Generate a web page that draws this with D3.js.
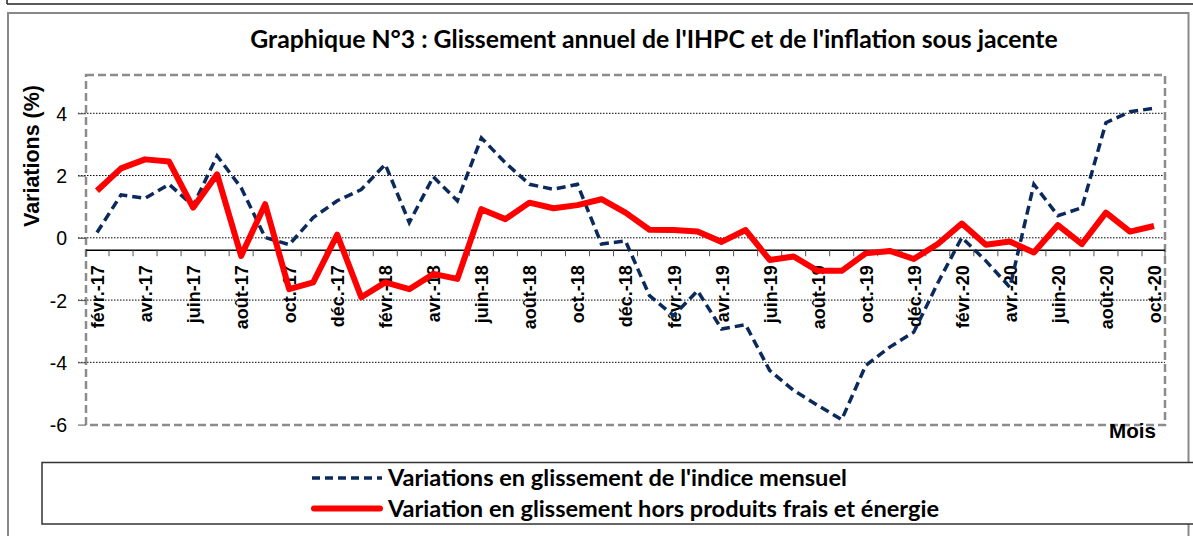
<!DOCTYPE html>
<html><head><meta charset="utf-8">
<script src="https://cdn.jsdelivr.net/npm/d3@7"></script>
<style>body{margin:0;background:#fff}svg{display:block}</style>
</head><body>
<svg id="c" width="1193" height="536"></svg>
<script>
const categories = ["févr.-17","mars-17","avr.-17","mai-17","juin-17","juil.-17","août-17","sept.-17","oct.-17","nov.-17","déc.-17","janv.-18","févr.-18","mars-18","avr.-18","mai-18","juin-18","juil.-18","août-18","sept.-18","oct.-18","nov.-18","déc.-18","janv.-19","févr.-19","mars-19","avr.-19","mai-19","juin-19","juil.-19","août-19","sept.-19","oct.-19","nov.-19","déc.-19","janv.-20","févr.-20","mars-20","avr.-20","mai-20","juin-20","juil.-20","août-20","sept.-20","oct.-20"];
const ihpc = [0.17,1.38,1.27,1.72,1.03,2.63,1.61,0.01,-0.22,0.65,1.19,1.55,2.36,0.49,1.96,1.19,3.21,2.41,1.72,1.56,1.72,-0.20,-0.10,-1.86,-2.50,-1.70,-2.93,-2.79,-4.26,-4.90,-5.38,-5.84,-4.10,-3.51,-3.03,-1.45,0.01,-0.74,-1.59,1.72,0.71,0.97,3.70,4.05,4.16];
const core = [1.51,2.23,2.52,2.45,0.97,2.04,-0.58,1.08,-1.65,-1.43,0.10,-1.91,-1.43,-1.65,-1.16,-1.32,0.92,0.60,1.13,0.95,1.05,1.24,0.81,0.26,0.25,0.20,-0.13,0.25,-0.71,-0.60,-1.06,-1.06,-0.50,-0.42,-0.68,-0.20,0.46,-0.22,-0.12,-0.47,0.41,-0.20,0.81,0.20,0.38];
const yTicks = [-6,-4,-2,0,2,4];
const titleText = "Graphique N°3 : Glissement annuel de l'IHPC et de l'inflation sous jacente";
const yTitle = "Variations (%)";
const xTitle = "Mois";
const seriesNames = ["Variations en glissement de l'indice mensuel","Variation en glissement hors produits frais et énergie"];
const axisCross = -0.4;

const svg = d3.select("#c");
const ARIAL = "Liberation Sans, Arial, sans-serif";
const CALIBRI = "Lato, Liberation Sans, Arial, sans-serif";
const L = 86, R = 1165, T = 75, B = 425;
const y = d3.scaleLinear().domain([-6, 4]).range([424.6, 113.3]);
const x = d3.scalePoint().domain(categories).range([97, 1154]);
const step = x.step();

function fit(sel, size, target) {
  const w = sel.node().getComputedTextLength();
  sel.attr("font-size", size * target / w);
}

// outer frames
svg.append("line").attr("x1",7).attr("x2",1193).attr("y1",4).attr("y2",4).attr("stroke","#222").attr("stroke-width",1.5);
svg.append("line").attr("x1",7).attr("x2",7).attr("y1",0).attr("y2",4).attr("stroke","#222").attr("stroke-width",1.5);
svg.append("rect").attr("x",8).attr("y",13).attr("width",1180.5).attr("height",540).attr("fill","none").attr("stroke","#888").attr("stroke-width",2);

// title
const title = svg.append("text").attr("x",654).attr("y",48).attr("text-anchor","middle")
  .attr("font-family",CALIBRI).attr("font-weight","bold").attr("font-size",22).attr("fill","#000").text(titleText);
fit(title, 22, 808);

// gridlines
svg.append("g").selectAll("line").data(yTicks.filter(d=>d>-6)).join("line")
  .attr("x1",78).attr("x2",R).attr("y1",d=>y(d)).attr("y2",d=>y(d))
  .attr("stroke","#000").attr("stroke-width",1).attr("stroke-dasharray","1.5,1.5");

// plot border dashed
svg.append("rect").attr("x",L).attr("y",T).attr("width",R-L).attr("height",B-T)
  .attr("fill","none").attr("stroke","#8c8c8c").attr("stroke-width",2.5).attr("stroke-dasharray","8,4");

// y axis
const ya = svg.append("g").attr("transform",`translate(${L},0)`)
  .call(d3.axisLeft(y).tickValues(yTicks).tickSize(8).tickSizeOuter(0).tickFormat(d=>String(d)));
ya.select(".domain").remove();
ya.selectAll("line").attr("stroke","#555").attr("stroke-width",1);
ya.selectAll("text").attr("x",-19).attr("dy","0.36em").attr("font-family",ARIAL).attr("font-size",19.5).attr("fill","#000");

const yt = svg.append("text").attr("transform",`translate(39,156) rotate(-90)`).attr("text-anchor","middle")
  .attr("font-family",ARIAL).attr("font-weight","bold").attr("font-size",20).text(yTitle);
fit(yt, 20, 142);

// x axis
const axY = y(axisCross);
const xa = svg.append("g").attr("transform",`translate(0,${axY})`)
  .call(d3.axisBottom(x).tickValues(categories.filter((d,i)=>i%2===0)).tickSize(0));
xa.select(".domain").remove();
const xl = xa.selectAll("text").attr("transform","rotate(-90)").attr("x",-15).attr("y",0).attr("dy","0.36em")
  .attr("text-anchor","end").attr("font-family",ARIAL).attr("font-weight","bold").attr("font-size",17.5).attr("fill","#000");
{ const w = xl.nodes()[0].getComputedTextLength(); xl.attr("font-size", 17.5*63/w); }
svg.append("line").attr("x1",L).attr("x2",R).attr("y1",axY).attr("y2",axY).attr("stroke","#000").attr("stroke-width",1.5);
const bounds = d3.range(categories.length+1).map(i => i===0 ? L : (i===categories.length ? R : x(categories[i-1]) + step/2));
svg.append("g").selectAll("line").data(bounds).join("line")
  .attr("x1",d=>d).attr("x2",d=>d).attr("y1",axY).attr("y2",axY+6).attr("stroke","#555").attr("stroke-width",1);

const mt = svg.append("text").attr("x",1156).attr("y",438).attr("text-anchor","end")
  .attr("font-family",ARIAL).attr("font-weight","bold").attr("font-size",19).text(xTitle);
fit(mt, 19, 47);

// lines
const line = d3.line().x((d,i)=>x(categories[i])).y(d=>y(d));
svg.append("path").attr("d",line(ihpc)).attr("fill","none").attr("stroke","#0b2a5b").attr("stroke-width",3.5).attr("stroke-dasharray","9,5");
svg.append("path").attr("d",line(core)).attr("fill","none").attr("stroke","#ff0000").attr("stroke-width",6).attr("stroke-linejoin","round");

// legend
svg.append("rect").attr("x",42).attr("y",462.5).attr("width",1160).attr("height",61.5).attr("fill","#fff").attr("stroke","#333").attr("stroke-width",1.5);
const ly = [478, 508.5];
svg.append("line").attr("x1",312).attr("x2",382).attr("y1",ly[0]).attr("y2",ly[0]).attr("stroke","#0b2a5b").attr("stroke-width",3.5).attr("stroke-dasharray","8,5");
svg.append("line").attr("x1",314).attr("x2",380).attr("y1",ly[1]).attr("y2",ly[1]).attr("stroke","#ff0000").attr("stroke-width",6).attr("stroke-linecap","round");
const lt = svg.append("g").selectAll("text").data(seriesNames).join("text")
  .attr("x",388).attr("y",(d,i)=>ly[i]).attr("dy","0.35em")
  .attr("font-family",CALIBRI).attr("font-weight","bold").attr("font-size",20).text(d=>d);
{ const n = lt.nodes(); const k = (467/n[0].getComputedTextLength() + 542/n[1].getComputedTextLength())/2; lt.attr("font-size", 20*k); }
</script>
</body></html>
